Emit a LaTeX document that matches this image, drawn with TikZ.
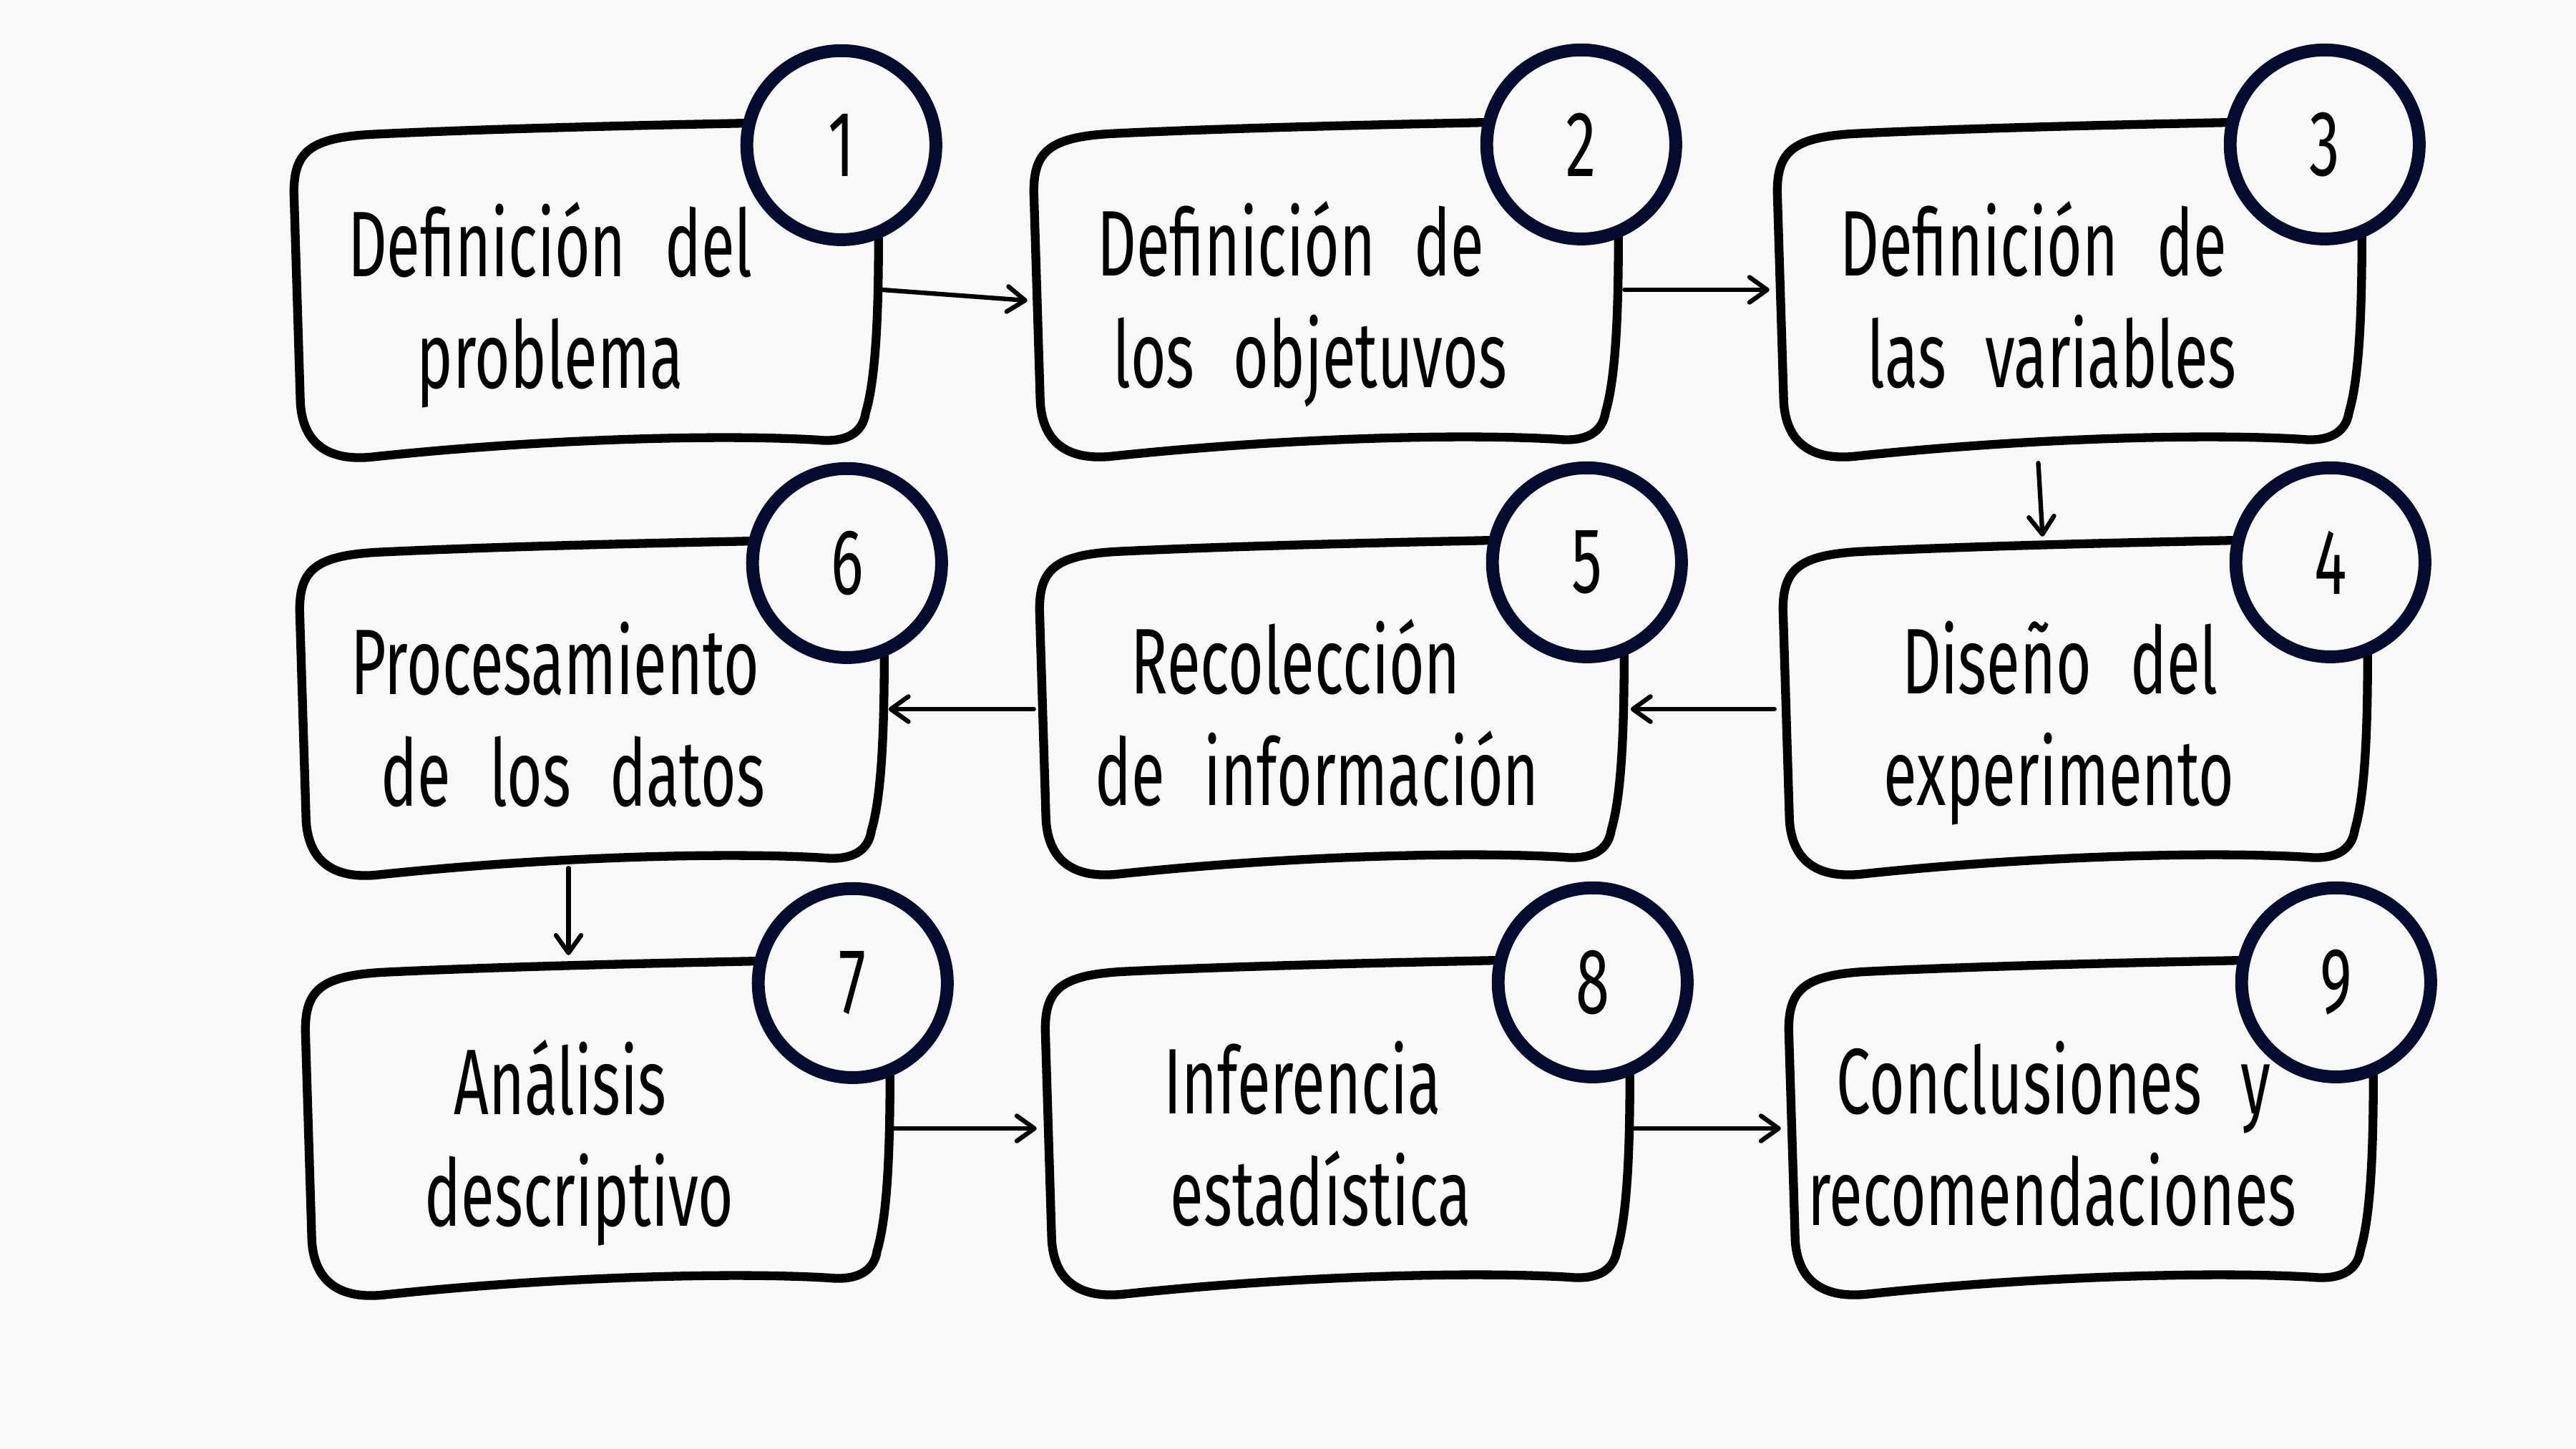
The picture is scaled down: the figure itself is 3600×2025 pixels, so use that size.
\documentclass[tikz,border=0pt]{standalone}
\usepackage{fontspec}
\setmainfont{Fira Sans}[FakeStretch=0.655,WordSpace=2.4]
\usetikzlibrary{calc,arrows.meta}
\definecolor{bgc}{HTML}{F8F8F8}
\definecolor{navy}{HTML}{060B30}
\newcommand\wobblybox[1]{%
  \draw[boxline,shift={(#1.north west)}]
  (0,96) .. controls (0,40) and (22,20) .. (107,15)
  .. controls (250,8) and (450,3) .. (598,0)
  -- (780,-4) .. controls (805,-4) and (815,5) .. (815,25)
  -- (817,160) .. controls (817,280) and (812,360) .. (799,404)
  .. controls (795,432) and (772,446) .. (732,442)
  .. controls (600,434) and (350,440) .. (107,466)
  .. controls (40,472) and (12,440) .. (9,390)
  -- cycle;}
\begin{document}
\begin{tikzpicture}[x=0.01cm,y=-0.01cm,
  boxline/.style={line width=3.5pt, draw=black, fill=bgc, line join=round},
  anchorbox/.style={rectangle, minimum width=8.15cm, minimum height=4.66cm, inner sep=0pt, outer sep=0pt},
  numcirc/.style={circle, draw=navy, line width=5.1pt, fill=bgc, minimum size=2.64cm, inner sep=0pt, font=\fontsize{37}{40}\selectfont},
  txt/.style={anchor=base, inner sep=0pt, font=\fontsize{37}{44}\selectfont},
  flow/.style={line width=1.8pt, line cap=round, -{Straight Barb[length=7pt,width=10pt,line cap=round,line join=round]}}
]
\fill[bgc] (0,0) rectangle (3600,2025);
\useasboundingbox (0,0) rectangle (3600,2025);

% invisible box frames (anchors)
\node[anchorbox] (b1) at (818.5,406) {};
\node[anchorbox] (b2) at (1852.5,405) {};
\node[anchorbox] (b3) at (2891.5,405) {};
\node[anchorbox] (b6) at (826.5,990) {};
\node[anchorbox] (b5) at (1860.5,989) {};
\node[anchorbox] (b4) at (2899.5,989) {};
\node[anchorbox] (b7) at (834.5,1577) {};
\node[anchorbox] (b8) at (1868.5,1576) {};
\node[anchorbox] (b9) at (2907.5,1576) {};

% hand-drawn outlines
\foreach \b in {b1,b2,b3,b4,b5,b6,b7,b8,b9} {\wobblybox{\b}}

% numbered circles
\node[numcirc] (c1) at ($(b1.north west)+(765,30)$) {1};
\node[numcirc] (c2) at ($(b2.north west)+(765,30)$) {2};
\node[numcirc] (c3) at ($(b3.north west)+(765,30)$) {3};
\node[numcirc] (c4) at ($(b4.north west)+(765,30)$) {4};
\node[numcirc] (c5) at ($(b5.north west)+(765,30)$) {5};
\node[numcirc] (c6) at ($(b6.north west)+(765,30)$) {6};
\node[numcirc] (c7) at ($(b7.north west)+(765,30)$) {7};
\node[numcirc] (c8) at ($(b8.north west)+(765,30)$) {8};
\node[numcirc] (c9) at ($(b9.north west)+(765,30)$) {9};

% texts
\node[txt] (t1a) at ($(b1.north west)+(358,214)$) {Definición del};
\node[txt] (t1b) at ($(b1.north west)+(358,370)$) {problema};
\node[txt] (t2a) at ($(b2.north west)+(359,214)$) {Definición de};
\node[txt] (t2b) at ($(b2.north west)+(386,370)$) {los objetuvos};
\node[txt] (t3a) at ($(b3.north west)+(358,214)$) {Definición de};
\node[txt] (t3b) at ($(b3.north west)+(384,370)$) {las variables};
\node[txt] (t4a) at ($(b4.north west)+(387,214)$) {Diseño del};
\node[txt] (t4b) at ($(b4.north west)+(386,370)$) {experimento};
\node[txt] (t5a) at ($(b5.north west)+(358,214)$) {Recolección};
\node[txt] (t5b) at ($(b5.north west)+(388,370)$) {de información};
\node[txt] (t6a) at ($(b6.north west)+(357,214)$) {Procesamiento};
\node[txt] (t6b) at ($(b6.north west)+(382,370)$) {de los datos};
\node[txt] (t7a) at ($(b7.north west)+(356,214)$) {Análisis};
\node[txt] (t7b) at ($(b7.north west)+(383,370)$) {descriptivo};
\node[txt] (t8a) at ($(b8.north west)+(359,214)$) {Inferencia};
\node[txt] (t8b) at ($(b8.north west)+(385,370)$) {estadística};
\node[txt] (t9a) at ($(b9.north west)+(370,214)$) {Conclusiones y};
\node[txt] (t9b) at ($(b9.north west)+(368,370)$) {recomendaciones};

% connectors
\draw[flow] ($(b1.east)+(7,-1)$) -- ($(b2.west)+(-9,15)$);
\draw[flow] ($(b2.east)+(10,0)$) -- ($(b3.west)+(-11,0)$);
\draw[flow] ($(b3.south)+(-43,9)$) -- ($(b4.north)+(-45,-6)$);
\draw[flow] ($(b4.west)+(-12,2)$) -- ($(b5.east)+(10.5,2)$);
\draw[flow] ($(b5.west)+(-8,2)$) -- ($(b6.east)+(7.5,1)$);
\draw[flow] ($(b6.south)+(-32,-10)$) -- ($(b7.north)+(-40,-9)$);
\draw[flow] ($(b7.east)+(6,0)$) -- ($(b8.west)+(-12,1)$);
\draw[flow] ($(b8.east)+(8,1)$) -- ($(b9.west)+(-11,1)$);
\end{tikzpicture}
\end{document}
